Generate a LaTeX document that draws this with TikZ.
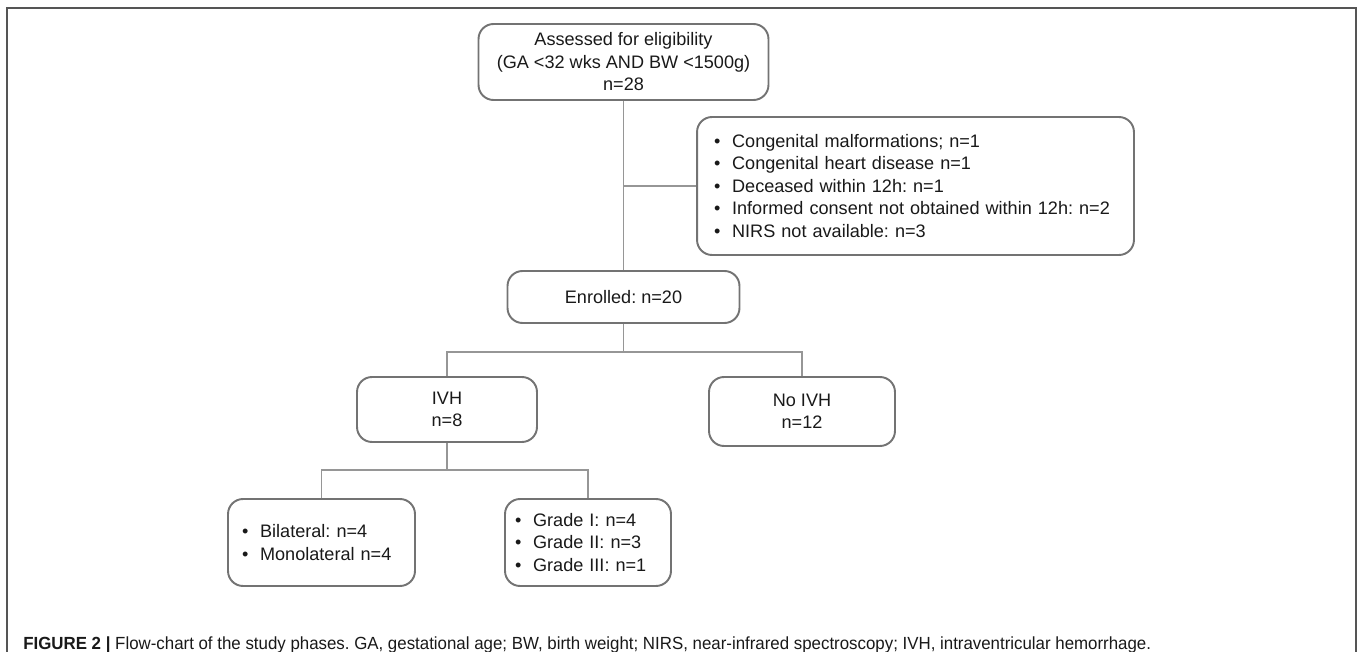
\documentclass[tikz,border=0pt]{standalone}
\usepackage{fontspec}
\setmainfont{Liberation Sans}
\newfontfamily\capfont[FakeStretch=0.96]{Liberation Sans}
\frenchspacing

\definecolor{boxgray}{RGB}{115,115,115}
\definecolor{linegray}{RGB}{150,150,150}
\definecolor{framegray}{RGB}{85,85,85}
\definecolor{textgray}{RGB}{25,25,25}

\newcommand{\itm}{\textbullet\hspace{0.65em}}

\begin{document}
\begin{tikzpicture}[x=0.02cm, y=-0.02cm,
		flowbox/.style={draw=boxgray, line width=1.1pt, rounded corners=0.3cm, align=center, text=textgray,
			font=\fontsize{10.3pt}{12.8pt}\selectfont, inner sep=0pt},
		listbox/.style={flowbox, align=left},
		link/.style={draw=linegray, line width=0.6pt}]
		
			\useasboundingbox (0,0) rectangle (1360,652);
			\draw[framegray, line width=1pt] (7,660) -- (7,8) -- (1356,8) -- (1356,660);
			
			\node[flowbox, minimum width=5.8cm, minimum height=1.52cm] (assessed) at (623.5,62)
				{Assessed for eligibility\\(GA <32 wks AND BW <1500g)\\n=28};
			\node[listbox, minimum width=8.74cm, minimum height=2.76cm, text width=8.06cm, inner xsep=0.34cm] (excluded) at (915.5,186)
				{\itm Congenital malformations; n=1\\
				 \itm Congenital heart disease n=1\\
				 \itm Deceased within 12h: n=1\\
				 \itm Informed consent not obtained within 12h: n=2\\
				 \itm NIRS not available: n=3};
			\node[flowbox, minimum width=4.64cm, minimum height=1.04cm] (enrolled) at (623.5,297) {Enrolled: n=20};
			
			\node[flowbox, minimum width=3.6cm, minimum height=1.3cm] (ivh) at (447,409.5) {IVH\\n=8};
			\node[flowbox, minimum width=3.72cm, minimum height=1.38cm] (noivh) at (802,411.5) {No IVH\\n=12};
			
			\node[listbox, minimum width=3.74cm, minimum height=1.74cm, text width=3.18cm, inner xsep=0.28cm] (bilateral) at (321.5,542.5)
				{\itm Bilateral: n=4\\
				 \itm Monolateral n=4};
			\node[listbox, minimum width=3.32cm, minimum height=1.74cm, text width=2.92cm, inner xsep=0.2cm] (grades) at (588,542.5)
				{\itm Grade I: n=4\\
				 \itm Grade II: n=3\\
				 \itm Grade III: n=1};
			
			\coordinate (exbranch) at (assessed.south |- excluded.west);
			\coordinate (split) at (623.5,352);
			\coordinate (ivhsplit) at (447,470);
			
			\draw[link] (assessed.south) -- (enrolled.north);
			\draw[link] (exbranch) -- (excluded.west);
			\draw[link] (enrolled.south) -- (split);
			\draw[link] (ivh.north) |- (split) -| (noivh.north);
			\draw[link] (ivh.south) -- (ivhsplit);
			\draw[link] (bilateral.north) |- (ivhsplit) -| (grades.north);
			
			\node[anchor=base west, inner sep=0pt, text=textgray, font=\capfont\fontsize{10pt}{12pt}\selectfont] (caption) at (23,649)
				{\textbf{FIGURE 2 |} Flow-chart of the study phases. GA, gestational age; BW, birth weight; NIRS, near-infrared spectroscopy; IVH, intraventricular hemorrhage.};
			
		\end{tikzpicture}
\end{document}
